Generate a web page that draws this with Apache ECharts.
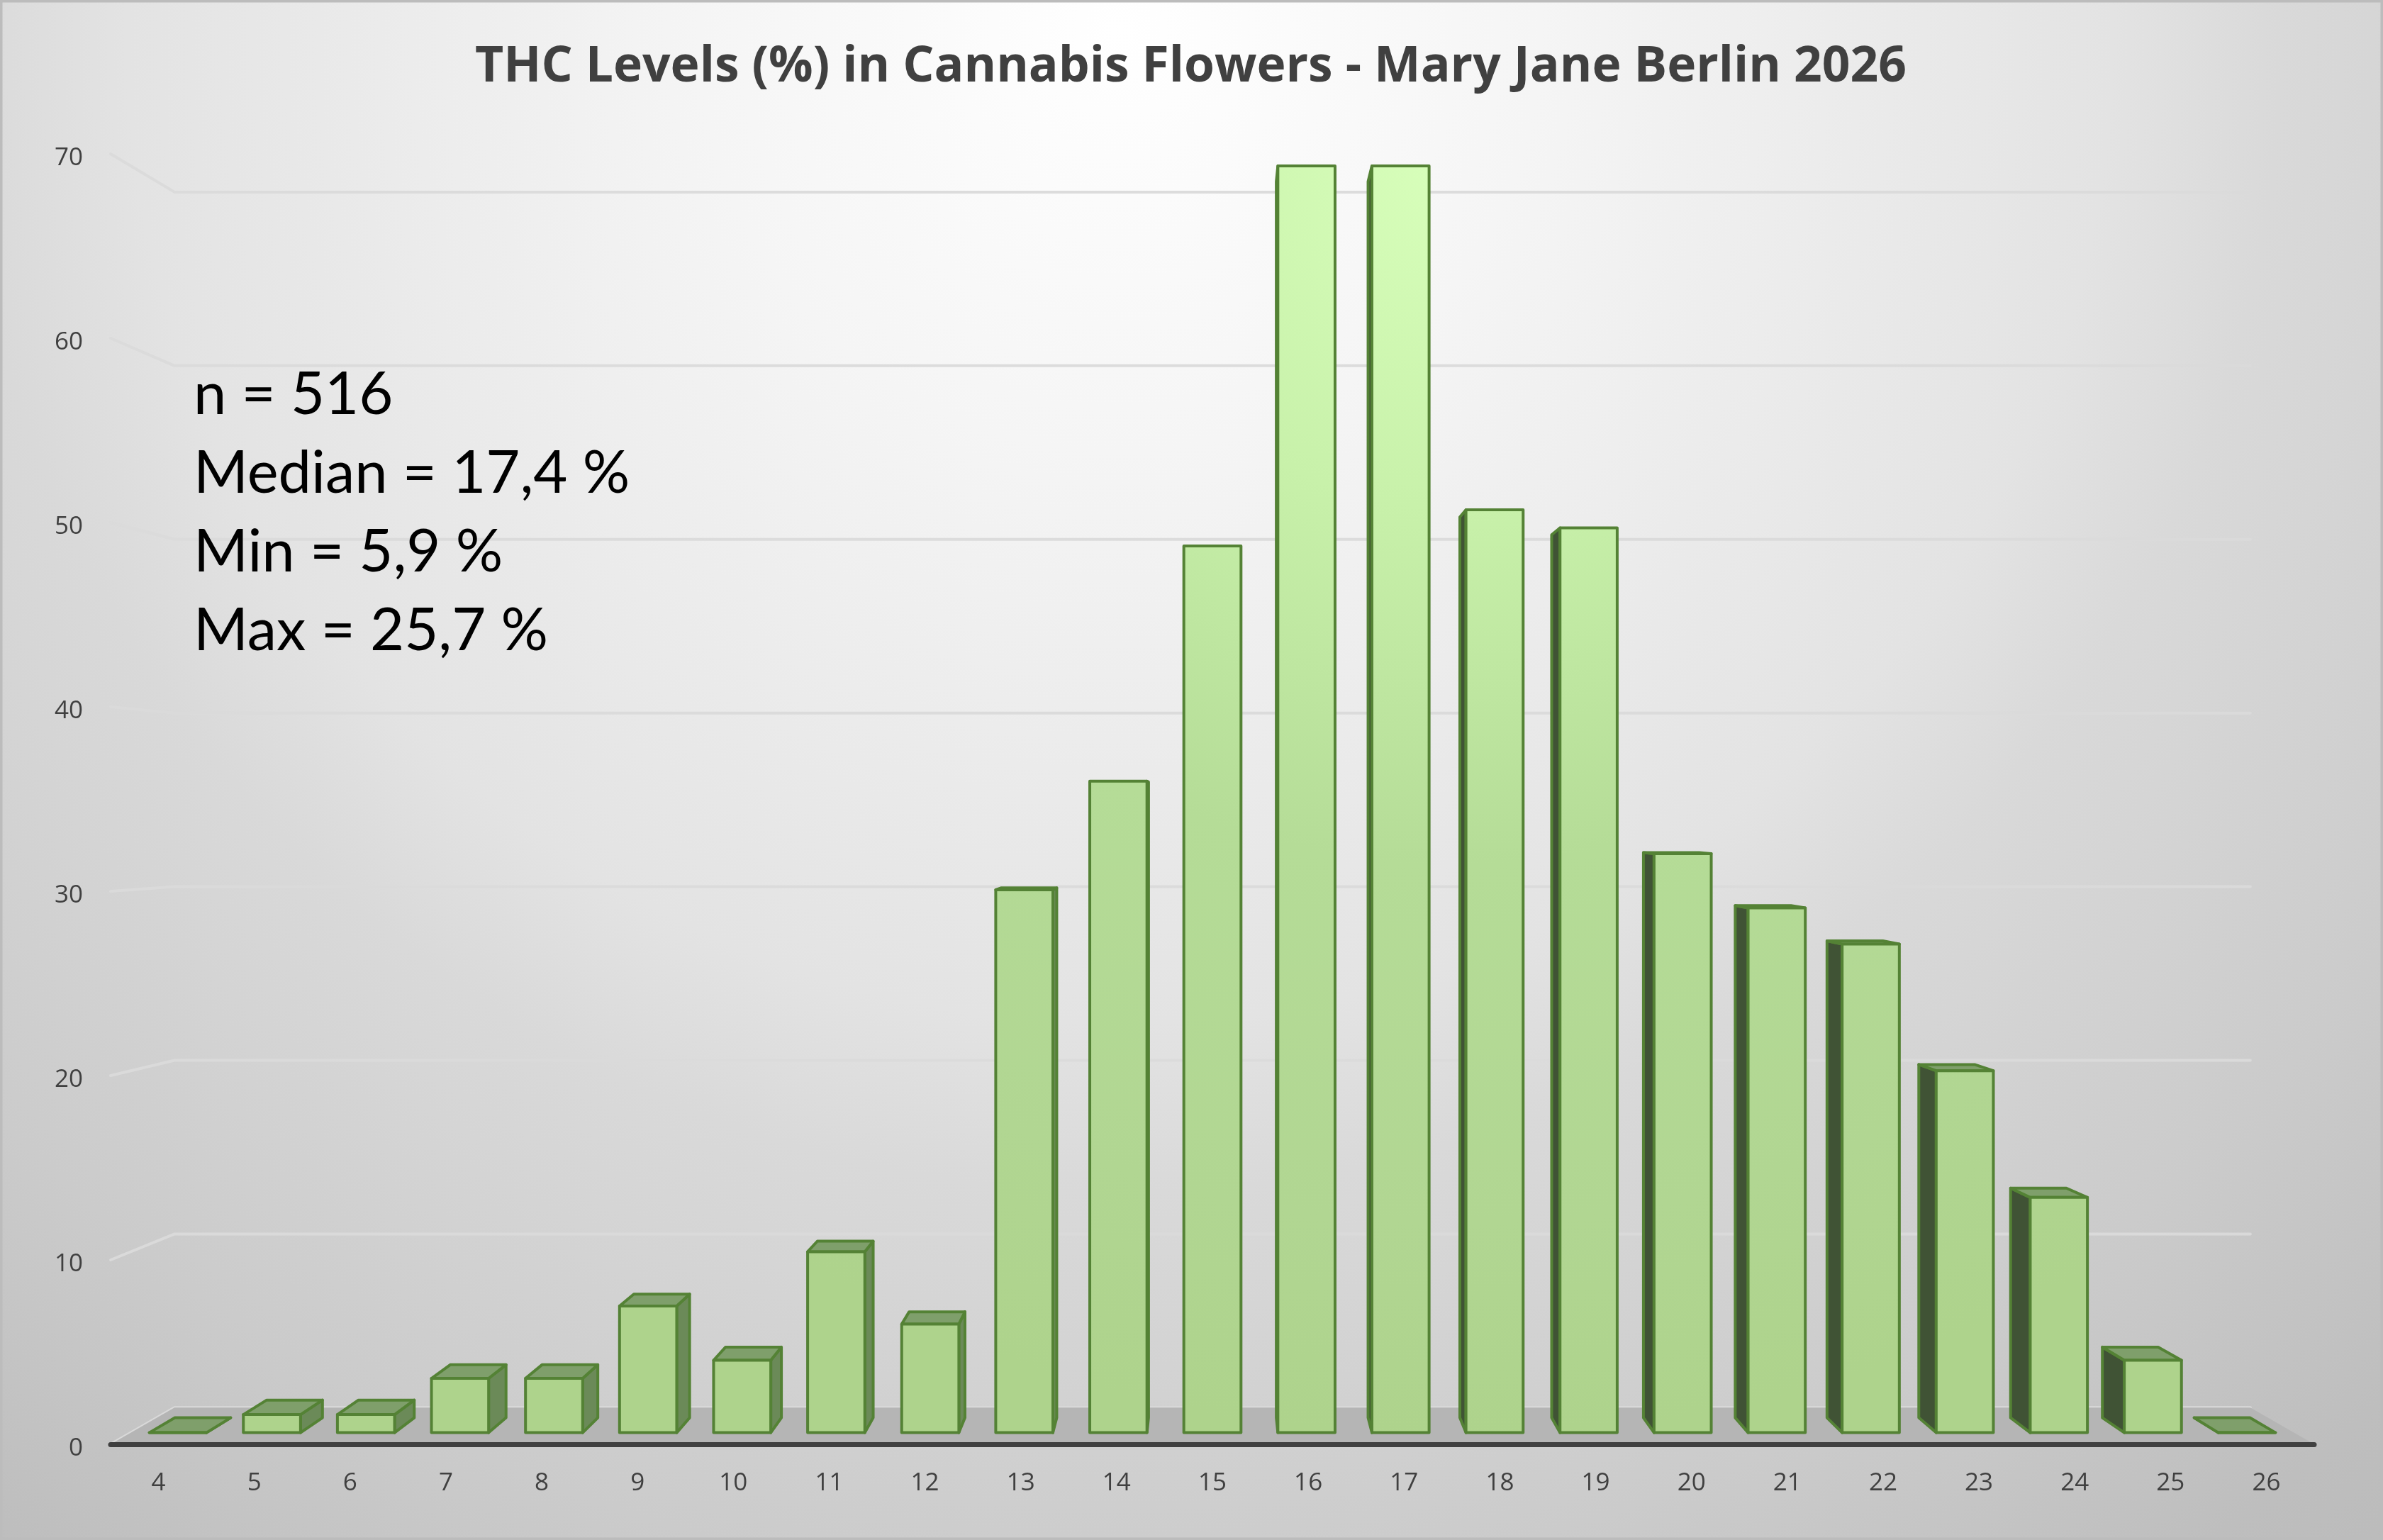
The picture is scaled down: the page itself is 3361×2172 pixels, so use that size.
<!DOCTYPE html>
<html>
<head>
<meta charset="utf-8">
<style>html,body{margin:0;padding:0;width:100%;height:100%;overflow:hidden}#c{width:3361px;height:2172px}</style>
<script src="https://cdn.jsdelivr.net/npm/echarts@6/dist/echarts.min.js"></script>
</head>
<body>
<div id="c"></div>
<script>
const categories = ['4','5','6','7','8','9','10','11','12','13','14','15','16','17','18','19','20','21','22','23','24','25','26'];
const counts = [0,1,1,3,3,7,4,10,6,30,36,49,70,70,51,50,32,29,27,20,13,4,0];
const yTicks = [0,10,20,30,40,50,60,70];
const titleText = 'THC Levels (%) in Cannabis Flowers - Mary Jane Berlin 2026';
const statLines = ['n = 516','Median = 17,4 %','Min = 5,9 %','Max = 25,7 %'];

const chart = echarts.init(document.getElementById('c'), null, {renderer:'canvas'});

const VY = 1146, S_FRONT = 0.9816, S_BACK = 0.958, S_WALL = 0.942, BAR_RATIO = 0.608;
const EDGE = '#548235';
const faceFill = {type:'radial', global:true, x:2050, y:230, r:1800,
  colorStops:[{offset:0,color:'#d8ffbb'},{offset:0.27,color:'#c8f1aa'},{offset:0.55,color:'#b5dc97'},
              {offset:0.83,color:'#b1d692'},{offset:1,color:'#aed38c'}]};
const vxOf = cs => cs.x + cs.width/2;
const proj = (p, s, vx) => [vx + (p[0]-vx)*s, VY + (p[1]-VY)*s];
const poly = (points, fill, stroke, w) => ({type:'polygon', shape:{points},
  style:{fill, stroke, lineWidth:w, lineJoin:'round'}});

function renderWall(params, api){
  const cs = params.coordSys, vx = vxOf(cs);
  const y = api.coord([0, api.value(1)])[1];
  const l = [cs.x, y], r = [cs.x+cs.width, y];
  const bl = proj(l, S_WALL, vx), br = proj(r, S_WALL, vx);
  return {type:'polyline', shape:{points:[l, bl, br]},
    style:{fill:null, stroke:'#dadada', lineWidth:4, lineCap:'round', lineJoin:'round', opacity:0.95}};
}
function renderFloor(params, api){
  const cs = params.coordSys, vx = vxOf(cs);
  const y = api.coord([0,0])[1];
  const l = [cs.x, y], r = [cs.x+cs.width, y];
  return poly([l, proj(l,S_WALL,vx), proj(r,S_WALL,vx), r], '#b5b5b5', null, 0);
}
function renderBar(params, api){
  const cs = params.coordSys, vx = vxOf(cs);
  const c = api.coord([api.value(0), api.value(1)]);
  const base = api.coord([api.value(0), 0])[1];
  const hw = api.size([1,0])[0]*BAR_RATIO/2;
  const corner = (x,y,s)=>proj([x,y],s,vx);
  const fTL = corner(c[0]-hw,c[1],S_FRONT), fTR = corner(c[0]+hw,c[1],S_FRONT);
  const fBL = corner(c[0]-hw,base,S_FRONT), fBR = corner(c[0]+hw,base,S_FRONT);
  const bTL = corner(c[0]-hw,c[1],S_BACK), bTR = corner(c[0]+hw,c[1],S_BACK);
  const bBL = corner(c[0]-hw,base,S_BACK), bBR = corner(c[0]+hw,base,S_BACK);
  const kids = [];
  if (fTR[0] < vx) kids.push(poly([fTR,bTR,bBR,fBR],'#6b8a58',EDGE,4));
  if (fTL[0] > vx) kids.push(poly([fTL,bTL,bBL,fBL],'#405335',EDGE,4));
  if (fTL[1] > bTL[1]) kids.push(poly([fTL,fTR,bTR,bTL],'#7f9f6b',EDGE,4));
  kids.push(poly([fTL,fTR,fBR,fBL],faceFill,EDGE,4));
  return {type:'group', children:kids};
}

const option = {
  animation:false,
  backgroundColor:{type:'radial', x:0.47, y:0.02, r:1.3, colorStops:[
    {offset:0,color:'#ffffff'},{offset:0.21,color:'#f5f5f5'},{offset:0.354,color:'#ececec'},
    {offset:0.496,color:'#e3e3e3'},{offset:0.58,color:'#d9d9d9'},{offset:0.64,color:'#d5d5d5'},
    {offset:0.78,color:'#cbcbcb'},{offset:0.93,color:'#bebebe'},{offset:1,color:'#bbbbbb'}]},
  title:[
    {text:titleText, left:670, top:60, padding:0,
     textStyle:{fontFamily:'Open Sans', fontWeight:700, fontSize:69.5, color:'#404040'}},
    {text:statLines.join('\n'), left:273, top:502, padding:0,
     textStyle:{fontFamily:'Lato', fontWeight:400, fontSize:83, lineHeight:111, color:'#000000'}}
  ],
  grid:{left:156, top:217, width:3108, height:1820},
  xAxis:{type:'category', data:categories, z:5,
    axisTick:{show:false},
    axisLine:{show:true, lineStyle:{color:'#404040', width:7, cap:'round'}},
    axisLabel:{interval:0, margin:38, fontFamily:'Open Sans', fontSize:35, color:'#404040'}},
  yAxis:{type:'value', min:0, max:70, interval:10,
    axisTick:{show:false}, axisLine:{show:false}, splitLine:{show:false},
    axisLabel:{margin:39, formatter:'{a|{value}}',
      rich:{a:{padding:[12,0,0,0], fontFamily:'Open Sans', fontSize:35, color:'#404040'}}}},
  graphic:[{type:'rect', silent:true, z:100, shape:{x:0,y:0,width:3361,height:2172},
    style:{fill:null, stroke:'#bcbcbc', lineWidth:7}}],
  series:[
    {type:'custom', name:'wall', z:1, silent:true, renderItem:renderWall,
     data:yTicks.map(v=>[0,v]), encode:{x:0,y:1}},
    {type:'custom', name:'floor', z:2, silent:true, renderItem:renderFloor,
     data:[[0,0]], encode:{x:0,y:1}},
    {type:'custom', name:'THC', z:3, renderItem:renderBar,
     data:counts.map((v,i)=>[i,v]), encode:{x:0,y:1}}
  ]
};
chart.setOption(option);
</script>
</body>
</html>
